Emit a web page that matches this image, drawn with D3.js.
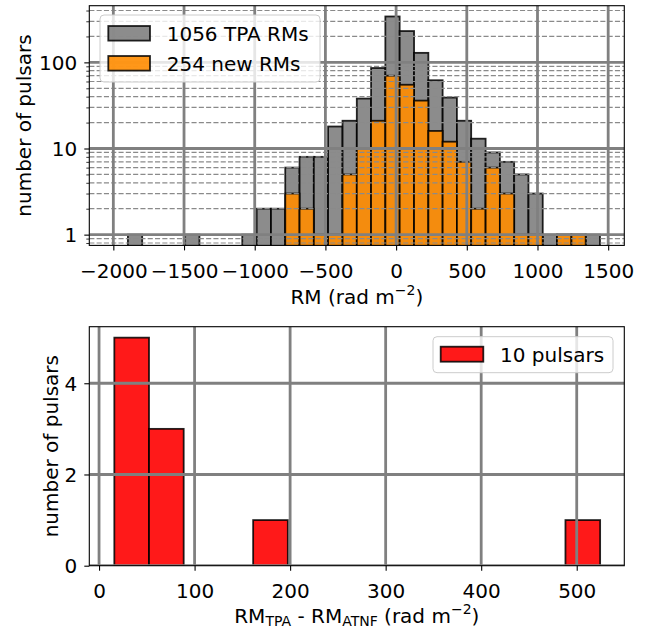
<!DOCTYPE html>
<html><head><meta charset="utf-8">
<script src="https://cdn.jsdelivr.net/npm/d3@7"></script>
<style>
body{margin:0;background:#fff}
svg text{font-family:"DejaVu Sans",sans-serif;fill:#000}
</style>
</head><body>
<svg id="c" width="647" height="629"></svg>
<script>
// ---------- data ----------
// top panel: RM histogram bin edges (rad m^-2) and counts
const rmBinEdges = [-1897,-1796,-1695,-1594,-1492,-1391,-1290,-1189,-1088,-986,-885,-784,-683,-582,-481,-379,-278,-177,-76,25,127,228,329,430,531,633,734,835,936,1037,1138,1240,1341,1442];
const tpaCounts  = [1,0,0,0,1,0,0,0,1,2,2,6,8,8,18,21,38,86,341,231,129,62,39,21,13,9,7,5,3,1,1,1,1];
const newCounts  = [0,0,0,0,0,0,0,0,0,0,0,3,2,1,1,5,10,21,70,55,36,16,12,7,2,6,3,1,1,0,1,1,0];
const seriesLabels = ["1056 TPA RMs","254 new RMs"];
const rmTicks = [-2000,-1500,-1000,-500,0,500,1000,1500];
const logMajor = [1,10,100];
const logMinor = [0.8,0.9,2,3,4,5,6,7,8,9,20,30,40,50,60,70,80,90,200,300,400];

// bottom panel: RM_TPA - RM_ATNF histogram
const diffBinEdges = [16,52.3,88.6,125,161.3,197.6,233.9,270.2,306.6,342.9,379.2,415.5,451.8,488.2,524.5];
const diffCounts   = [5,3,0,0,1,0,0,0,0,0,0,0,0,1];
const diffLabel = "10 pulsars";
const diffXTicks = [0,100,200,300,400,500];
const diffYTicks = [0,2,4];

// ---------- layout ----------
const svg = d3.select("#c");
const L = 89.3, R = 624.3;
const P1 = {t:5.7, b:245.4};
const P2 = {t:326.7, b:565.7};
const FS = 20;
const GRID = "#808080";
const minus = s => String(s).replace("-", "\u2212");

const defs = svg.append("defs");
[["clip1",P1],["clip2",P2]].forEach(([id,p])=>{
  defs.append("clipPath").attr("id",id).append("rect")
    .attr("x",L).attr("y",p.t).attr("width",R-L).attr("height",p.b-p.t);
});

// ================= panel 1 =================
const x1 = d3.scaleLinear().domain([-2170,1614]).range([L,R]);
const y1 = d3.scaleLog().domain([0.75,455]).range([P1.b,P1.t]);
const g1 = svg.append("g");
const bars1 = g1.append("g").attr("clip-path","url(#clip1)");

function drawHist(g, edges, counts, x, y, bottom, fill){
  const data = counts.map((c,i)=>({c, x0:edges[i], x1:edges[i+1]})).filter(d=>d.c>0);
  g.selectAll(null).data(data).enter().append("rect")
    .attr("x",d=>x(d.x0)).attr("width",d=>x(d.x1)-x(d.x0))
    .attr("y",d=>y(d.c)).attr("height",d=>bottom + 5 - y(d.c))
    .attr("fill",fill).attr("fill-opacity",0.9)
    .attr("stroke","#000").attr("stroke-opacity",0.85).attr("stroke-width",1.8);
}
drawHist(bars1, rmBinEdges, tpaCounts, x1, y1, P1.b, "#808080");
drawHist(bars1, rmBinEdges, newCounts, x1, y1, P1.b, "#ff8c00");

// grid (on top of bars)
const grid1 = g1.append("g").attr("clip-path","url(#clip1)");
grid1.selectAll(null).data(logMinor).enter().append("line")
  .attr("x1",L).attr("x2",R).attr("y1",d=>y1(d)).attr("y2",d=>y1(d))
  .attr("stroke","#8a8a8a").attr("stroke-width",1.2).attr("stroke-dasharray","5.1,2.2");
grid1.selectAll(null).data(logMajor).enter().append("line")
  .attr("x1",L).attr("x2",R).attr("y1",d=>y1(d)).attr("y2",d=>y1(d))
  .attr("stroke",GRID).attr("stroke-width",2.8);
grid1.selectAll(null).data(rmTicks).enter().append("line")
  .attr("x1",d=>x1(d)).attr("x2",d=>x1(d)).attr("y1",P1.t).attr("y2",P1.b)
  .attr("stroke",GRID).attr("stroke-width",2.8);

// axes
function styleAxis(g){
  g.select(".domain").remove();
  g.selectAll(".tick line").attr("stroke","#000").attr("stroke-width",1.1);
  g.selectAll(".tick text").attr("font-size",FS).attr("font-family","DejaVu Sans, sans-serif").attr("fill","#000");
}
const ax1 = g1.append("g").attr("transform",`translate(0,${P1.b})`)
  .call(d3.axisBottom(x1).tickValues(rmTicks).tickFormat(minus).tickSize(5).tickPadding(13));
styleAxis(ax1);
const ay1 = g1.append("g").attr("transform",`translate(${L},0)`)
  .call(d3.axisLeft(y1).tickValues(logMajor).tickFormat(d3.format("d")).tickSize(5).tickPadding(7));
styleAxis(ay1);
ay1.selectAll(".tick text").attr("dy","0.36em");
const ay1m = g1.append("g").attr("transform",`translate(${L},0)`)
  .call(d3.axisLeft(y1).tickValues(logMinor).tickFormat("").tickSize(3));
styleAxis(ay1m);
ay1m.selectAll(".tick line").attr("stroke-width",0.8);

g1.append("rect").attr("x",L).attr("y",P1.t).attr("width",R-L).attr("height",P1.b-P1.t)
  .attr("fill","none").attr("stroke","#000").attr("stroke-width",1.1);

// labels
const xl1 = g1.append("text").attr("x",(L+R)/2).attr("y",303.5).attr("text-anchor","middle").attr("font-size",FS);
xl1.append("tspan").text("RM (rad m");
xl1.append("tspan").attr("font-size",14).attr("dy",-9).text("\u22122");
xl1.append("tspan").attr("dy",9).text(")");
g1.append("text").attr("transform",`translate(30.8,${(P1.t+P1.b)/2}) rotate(-90)`)
  .attr("text-anchor","middle").attr("font-size",FS).text("number of pulsars");

// legend 1
const lg1 = g1.append("g");
lg1.append("rect").attr("x",100).attr("y",15).attr("width",220).attr("height",67).attr("rx",4)
  .attr("fill","#fff").attr("fill-opacity",0.8).attr("stroke","#cccccc").attr("stroke-width",1);
[["#808080",26],["#ff8c00",56]].forEach(([c,yy],i)=>{
  lg1.append("rect").attr("x",108.3).attr("y",yy).attr("width",41.7).attr("height",14.6)
    .attr("fill",c).attr("fill-opacity",0.9).attr("stroke","#000").attr("stroke-opacity",0.85).attr("stroke-width",1.8);
  lg1.append("text").attr("x",166.7).attr("y",yy+14.7).attr("font-size",FS).text(seriesLabels[i]);
});

// ================= panel 2 =================
const x2 = d3.scaleLinear().domain([-10.2,549.8]).range([L,R]);
const y2 = d3.scaleLinear().domain([0,5.24]).range([P2.b,P2.t]);
const g2 = svg.append("g");
const bars2 = g2.append("g").attr("clip-path","url(#clip2)");
drawHist(bars2, diffBinEdges, diffCounts, x2, y2, P2.b, "#ff0000");

const grid2 = g2.append("g").attr("clip-path","url(#clip2)");
grid2.selectAll(null).data(diffYTicks).enter().append("line")
  .attr("x1",L).attr("x2",R).attr("y1",d=>y2(d)).attr("y2",d=>y2(d))
  .attr("stroke",GRID).attr("stroke-width",2.8);
grid2.selectAll(null).data(diffXTicks).enter().append("line")
  .attr("x1",d=>x2(d)).attr("x2",d=>x2(d)).attr("y1",P2.t).attr("y2",P2.b)
  .attr("stroke",GRID).attr("stroke-width",2.8);

const ax2 = g2.append("g").attr("transform",`translate(0,${P2.b})`)
  .call(d3.axisBottom(x2).tickValues(diffXTicks).tickFormat(d3.format("d")).tickSize(5).tickPadding(13));
styleAxis(ax2);
const ay2 = g2.append("g").attr("transform",`translate(${L},0)`)
  .call(d3.axisLeft(y2).tickValues(diffYTicks).tickFormat(d3.format("d")).tickSize(5).tickPadding(7));
styleAxis(ay2);
ay2.selectAll(".tick text").attr("dy","0.36em");

g2.append("rect").attr("x",L).attr("y",P2.t).attr("width",R-L).attr("height",P2.b-P2.t)
  .attr("fill","none").attr("stroke","#000").attr("stroke-width",1.1);

const xl2 = g2.append("text").attr("x",(L+R)/2).attr("y",622.5).attr("text-anchor","middle").attr("font-size",FS);
xl2.append("tspan").text("RM");
xl2.append("tspan").attr("font-size",14).attr("dy",3).text("TPA");
xl2.append("tspan").attr("dy",-3).text(" - RM");
xl2.append("tspan").attr("font-size",14).attr("dy",3).text("ATNF");
xl2.append("tspan").attr("dy",-3).text(" (rad m");
xl2.append("tspan").attr("font-size",14).attr("dy",-9).text("\u22122");
xl2.append("tspan").attr("dy",9).text(")");
g2.append("text").attr("transform",`translate(57.8,${(P2.t+P2.b)/2}) rotate(-90)`)
  .attr("text-anchor","middle").attr("font-size",FS).text("number of pulsars");

const lg2 = g2.append("g");
lg2.append("rect").attr("x",433).attr("y",336.7).attr("width",180).attr("height",36).attr("rx",4)
  .attr("fill","#fff").attr("fill-opacity",0.8).attr("stroke","#cccccc").attr("stroke-width",1);
lg2.append("rect").attr("x",440.7).attr("y",346.7).attr("width",42.6).attr("height",15)
  .attr("fill","#ff0000").attr("fill-opacity",0.9).attr("stroke","#000").attr("stroke-opacity",0.85).attr("stroke-width",1.8);
lg2.append("text").attr("x",500).attr("y",361.8).attr("font-size",FS).text(diffLabel);
</script>
</body></html>
